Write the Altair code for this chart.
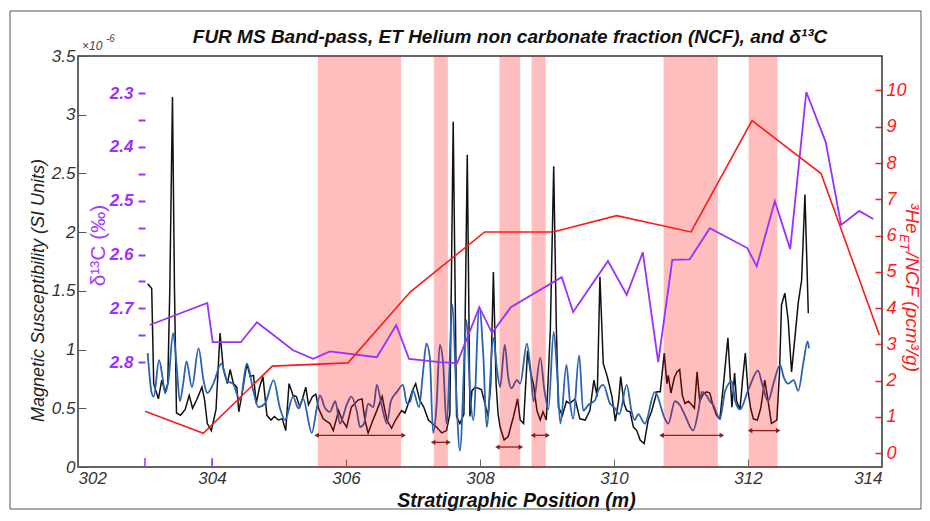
import altair as alt
import pandas as pd

# ---------------- data ----------------
ms_raw_x = [303.04, 303.10, 303.13, 303.20, 303.25, 303.30, 303.34, 303.37, 303.41, 303.44,
            303.47, 303.53, 303.60, 303.66, 303.71, 303.77, 303.85, 303.89, 303.93, 303.99,
            304.06, 304.12, 304.17, 304.23, 304.27, 304.32, 304.37, 304.40, 304.45, 304.52,
            304.57, 304.62, 304.66, 304.71, 304.76, 304.82, 304.88, 304.93, 304.99, 305.05,
            305.10, 305.15, 305.21, 305.26, 305.31, 305.36, 305.40, 305.44, 305.50, 305.55,
            305.59, 305.66, 305.76, 305.81, 305.89, 305.94, 306.01, 306.08, 306.18, 306.24,
            306.28, 306.33, 306.41, 306.46, 306.54, 306.61, 306.68, 306.74, 306.83, 306.88,
            306.93, 306.99, 307.04, 307.10, 307.16, 307.23, 307.29, 307.35, 307.43, 307.50,
            307.55, 307.60, 307.65, 307.70, 307.76, 307.81, 307.85, 307.88, 307.93, 308.02,
            308.07, 308.12, 308.16, 308.20, 308.24, 308.27, 308.30, 308.36, 308.42, 308.50,
            308.56, 308.60, 308.65, 308.71, 308.75, 308.80, 308.85, 308.90, 308.94, 308.99,
            309.05, 309.10, 309.14, 309.17, 309.23, 309.29, 309.34, 309.42, 309.49, 309.57,
            309.64, 309.70, 309.75, 309.79, 309.84, 309.90, 309.97, 310.02, 310.07, 310.10,
            310.15, 310.19, 310.24, 310.29, 310.34, 310.39, 310.45, 310.51, 310.56, 310.64,
            310.69, 310.75, 310.79, 310.81, 310.85, 310.90, 310.94, 310.98, 311.02, 311.06,
            311.11, 311.16, 311.20, 311.24, 311.28, 311.33, 311.38, 311.43, 311.48, 311.53,
            311.58, 311.63, 311.70, 311.76, 311.80, 311.83, 311.88, 311.92, 311.96, 312.00,
            312.04, 312.08, 312.14, 312.19, 312.25, 312.29, 312.35, 312.43, 312.47, 312.50,
            312.55, 312.60, 312.65, 312.70, 312.75, 312.80, 312.85, 312.90]
ms_raw_y = [1.56, 1.52, 0.71, 0.58, 0.74, 0.64, 0.71, 1.51, 3.15, 1.51,
            0.46, 0.44, 0.49, 0.61, 0.50, 0.57, 0.68, 0.57, 0.37, 0.31,
            0.49, 1.14, 0.83, 0.71, 0.83, 0.71, 0.68, 0.47, 0.63, 0.88,
            0.77, 0.78, 0.54, 0.68, 0.77, 0.44, 0.40, 0.43, 0.40, 0.41,
            0.31, 0.71, 0.61, 0.60, 0.51, 0.60, 0.68, 0.53, 0.60, 0.62,
            0.50, 0.41, 0.37, 0.31, 0.48, 0.40, 0.34, 0.51, 0.57, 0.58,
            0.41, 0.29, 0.41, 0.48, 0.60, 0.40, 0.33, 0.40, 0.48, 0.46,
            0.54, 0.65, 0.71, 0.57, 0.51, 0.40, 0.37, 0.34, 0.29, 0.31,
            0.45, 2.94, 0.43, 0.37, 0.45, 2.66, 0.43, 0.65, 0.68, 0.66,
            0.55, 0.43, 0.70, 1.66, 0.71, 0.45, 0.34, 0.23, 0.26, 0.43,
            0.58, 0.40, 0.37, 0.99, 0.82, 0.70, 0.48, 0.40, 0.47, 0.40,
            1.17, 2.56, 1.17, 0.51, 0.44, 0.56, 0.54, 0.58, 0.41, 0.40,
            0.48, 0.74, 0.60, 1.62, 0.88, 0.77, 0.60, 0.39, 0.57, 0.77,
            0.54, 0.48, 0.47, 0.34, 0.31, 0.23, 0.20, 0.40, 0.47, 0.64,
            0.64, 0.97, 0.71, 0.78, 0.63, 0.76, 0.81, 0.83, 0.61, 0.54,
            0.56, 0.53, 0.50, 0.81, 0.56, 0.62, 0.64, 0.63, 0.52, 0.44,
            0.41, 0.68, 1.10, 0.51, 0.80, 0.56, 0.49, 0.75, 0.97, 0.65,
            0.50, 0.41, 0.40, 0.50, 0.74, 0.60, 0.37, 0.40, 0.80, 1.38,
            1.48, 1.25, 0.81, 1.10, 1.40, 1.59, 2.32, 1.31]

ms_bp_x = [303.04, 303.10, 303.13, 303.21, 303.26, 303.30, 303.35, 303.42, 303.47, 303.52,
           303.57, 303.62, 303.70, 303.80, 303.87, 303.93, 304.02, 304.14, 304.23, 304.31,
           304.42, 304.52, 304.62, 304.69, 304.79, 304.92, 305.01, 305.09, 305.21, 305.29,
           305.36, 305.49, 305.56, 305.61, 305.69, 305.76, 305.84, 305.91, 306.01, 306.08,
           306.16, 306.21, 306.27, 306.33, 306.41, 306.46, 306.53, 306.61, 306.67, 306.76,
           306.85, 306.91, 306.96, 307.00, 307.09, 307.15, 307.20, 307.25, 307.30, 307.35,
           307.40, 307.45, 307.50, 307.59, 307.64, 307.70, 307.80, 307.85, 307.90, 307.99,
           308.05, 308.10, 308.20, 308.25, 308.30, 308.37, 308.42, 308.47, 308.55, 308.60,
           308.70, 308.75, 308.80, 308.90, 308.96, 309.02, 309.10, 309.15, 309.20, 309.29,
           309.34, 309.39, 309.48, 309.54, 309.62, 309.72, 309.75, 309.84, 309.94, 310.00,
           310.08, 310.19, 310.26, 310.31, 310.36, 310.46, 310.61, 310.76, 310.81, 310.91,
           310.98, 311.06, 311.18, 311.26, 311.31, 311.38, 311.43, 311.48, 311.58, 311.66,
           311.76, 311.81, 311.88, 312.00, 312.15, 312.21, 312.30, 312.38, 312.48, 312.53,
           312.60, 312.68, 312.75, 312.83, 312.89, 312.91]
ms_bp_y = [0.97, 0.63, 0.60, 0.91, 0.77, 0.63, 0.74, 1.14, 0.88, 0.56,
           0.71, 0.90, 0.68, 1.01, 0.75, 0.63, 0.71, 0.88, 0.73, 0.71,
           0.57, 0.88, 0.64, 0.51, 0.54, 0.74, 0.51, 0.40, 0.60, 0.50,
           0.58, 0.29, 0.49, 0.61, 0.50, 0.47, 0.56, 0.37, 0.53, 0.60,
           0.48, 0.34, 0.37, 0.54, 0.51, 0.70, 0.53, 0.37, 0.56, 0.64,
           0.70, 0.54, 0.56, 0.65, 0.51, 0.81, 1.05, 0.94, 0.29, 0.51,
           1.04, 0.88, 0.37, 1.38, 0.71, 0.14, 1.25, 0.65, 0.40, 1.36,
           0.94, 0.34, 1.10, 0.85, 0.68, 1.04, 0.77, 0.67, 0.74, 0.71,
           1.05, 0.85, 0.56, 0.93, 0.66, 0.49, 1.15, 0.81, 0.37, 0.87,
           0.57, 0.41, 0.95, 0.48, 0.53, 0.57, 0.63, 0.70, 0.54, 0.51,
           0.45, 0.70, 0.48, 0.40, 0.45, 0.37, 0.64, 0.41, 0.37, 0.56,
           0.53, 0.44, 0.31, 0.48, 0.64, 0.61, 0.56, 0.53, 0.41, 0.65,
           0.73, 0.56, 0.49, 0.65, 0.82, 0.71, 0.56, 0.71, 0.87, 0.77,
           0.71, 0.74, 0.65, 0.90, 1.07, 1.01]

d13c_x = [303.07, 303.93, 304.01, 304.43, 304.67, 305.21, 305.51, 305.76, 306.46, 306.75,
          306.94, 307.40, 307.66, 307.99, 308.18, 308.46, 309.22, 309.39, 309.91, 310.19,
          310.43, 310.66, 310.87, 311.13, 311.43, 311.99, 312.13, 312.40, 312.63, 312.87,
          313.16, 313.39, 313.66, 313.87]
d13c_y = [2.731, 2.690, 2.763, 2.763, 2.726, 2.778, 2.794, 2.780, 2.791, 2.731,
          2.794, 2.800, 2.802, 2.698, 2.746, 2.698, 2.642, 2.707, 2.612, 2.675,
          2.596, 2.800, 2.610, 2.609, 2.551, 2.588, 2.622, 2.501, 2.590, 2.298,
          2.391, 2.545, 2.519, 2.534]

he_x = [303.00, 303.87, 304.90, 306.03, 306.96, 308.07, 309.09, 310.04, 311.15, 312.06,
        313.09, 313.96]
he_y = [1.16, 0.55, 2.40, 2.49, 4.45, 6.10, 6.10, 6.55, 6.10, 9.17, 7.71, 3.26]

band_start = [305.58, 307.31, 308.29, 308.77, 310.74, 312.01]
band_end = [306.82, 307.52, 308.60, 308.98, 311.55, 312.44]

arrow_start = [305.56, 307.30, 308.26, 308.79, 310.71, 312.03]
arrow_end = [306.86, 307.53, 308.61, 309.01, 311.61, 312.45]
arrow_level = [0.27, 0.21, 0.17, 0.27, 0.27, 0.31]

x_ticks = [302, 304, 306, 308, 310, 312, 314]
ms_ticks = [0, 0.5, 1, 1.5, 2, 2.5, 3, 3.5]
d13c_ticks = [2.3, 2.35, 2.4, 2.45, 2.5, 2.55, 2.6, 2.65, 2.7, 2.75, 2.8]
he_ticks = [0, 1, 2, 3, 4, 5, 6, 7, 8, 9, 10]
purple_x_ticks = [303, 304]

# ---------------- layout / style ----------------
W, H = 804, 411
LFONT = "Liberation Sans, Arial, sans-serif"
PURPLE = "#9B30FF"
RED = "#FF1A1A"
BLUE = "#2A62B4"
DARKRED = "#8B1E1E"

x_scale = alt.Scale(domain=[302, 314], nice=False, zero=False)
ms_scale = alt.Scale(domain=[0, 3.5], nice=False, zero=False)
d13_scale = alt.Scale(domain=[2.231, 2.995], reverse=True, nice=False, zero=False)
he_scale = alt.Scale(domain=[-0.38, 10.95], nice=False, zero=False)

x_axis = alt.Axis(values=x_ticks, offset=-8, tickSize=8, domain=False, grid=False,
                  labelFont=LFONT, labelFontStyle="italic", labelFontSize=17, labelColor="#333",
                  tickColor="#666", labelPadding=3, format="d",
                  title="Stratigraphic Position (m)", titleFont=LFONT, titleFontSize=19.5,
                  titleFontStyle="italic", titleFontWeight="bold", titleColor="#111",
                  titleX=438, titleY=47, titleAlign="center", titleBaseline="alphabetic")

ms_axis = alt.Axis(orient="left", values=ms_ticks, offset=-8, tickSize=8, domain=False, grid=False,
                   labelFont=LFONT, labelFontStyle="italic", labelFontSize=17, labelColor="#333",
                   tickColor="#555", labelPadding=3, format="~g",
                   title="Magnetic Susceptibility  (SI Units)", titleFont=LFONT, titleFontSize=18,
                   titleFontStyle="italic", titleFontWeight="normal", titleColor="#222",
                   titleX=-43, titleY=234, titleAngle=-90, titleAlign="center",
                   titleBaseline="alphabetic")

d13_axis = alt.Axis(orient="left", values=d13c_ticks, offset=-67, tickSize=7, domain=False, grid=False,
                    labelFont=LFONT, labelFontStyle="italic", labelFontWeight="bold",
                    labelFontSize=17, labelColor=PURPLE, tickColor=PURPLE, tickWidth=2,
                    labelPadding=5,
                    labelExpr="abs(datum.value*10 - round(datum.value*10)) < 0.01 ? format(datum.value, '.1f') : ''",
                    title="δ¹³C (‰)", titleFont=LFONT, titleFontSize=21, titleFontWeight="normal",
                    titleColor="#A040FF", titleX=-41, titleY=189, titleAngle=-90,
                    titleAlign="center", titleBaseline="alphabetic")

he_axis = alt.Axis(orient="right", values=he_ticks, offset=-7, tickSize=7, domain=False, grid=False,
                   labelFont=LFONT, labelFontStyle="italic", labelFontSize=18, labelColor=RED,
                   tickColor=RED, tickWidth=1.5, labelPadding=4, format="d", title=None)

raw_df = pd.DataFrame({"pos": ms_raw_x, "ms": ms_raw_y})
bp_df = pd.DataFrame({"pos": ms_bp_x, "ms": ms_bp_y})
d13_df = pd.DataFrame({"pos": d13c_x, "d13c": d13c_y})
he_df = pd.DataFrame({"pos": he_x, "he": he_y})
band_df = pd.DataFrame({"start": band_start, "end": band_end})
arrow_df = pd.DataFrame({"start": arrow_start, "end": arrow_end, "level": arrow_level})
ptick_df = pd.DataFrame({"pos": purple_x_ticks})
one = pd.DataFrame({"k": [0]})

X = alt.X("pos:Q", scale=x_scale, axis=x_axis)

black = alt.Chart(raw_df).mark_line(color="#111", strokeWidth=1.5).encode(
    x=X, y=alt.Y("ms:Q", scale=ms_scale, axis=ms_axis))

blue = alt.Chart(bp_df).mark_line(color=BLUE, strokeWidth=1.8, interpolate="monotone").encode(
    x=X, y=alt.Y("ms:Q", scale=ms_scale, axis=None))

bands = alt.Chart(band_df).mark_rect(color="#FF0000", opacity=0.26).encode(
    x=alt.X("start:Q", scale=x_scale, axis=x_axis), x2="end:Q",
    y=alt.value(0), y2=alt.value(H))

purple = alt.Chart(d13_df).mark_line(color=PURPLE, strokeWidth=1.8).encode(
    x=X, y=alt.Y("d13c:Q", scale=d13_scale, axis=d13_axis))

red = alt.Chart(he_df).mark_line(color=RED, strokeWidth=1.6).encode(
    x=X, y=alt.Y("he:Q", scale=he_scale, axis=he_axis))

arrow_line = alt.Chart(arrow_df).mark_rule(color=DARKRED, strokeWidth=1.3).encode(
    x=alt.X("start:Q", scale=x_scale, axis=x_axis), x2="end:Q",
    y=alt.Y("level:Q", scale=ms_scale, axis=None))

arrow_l = alt.Chart(arrow_df).mark_point(shape="triangle-left", filled=True, size=28,
                                         color=DARKRED, opacity=1).encode(
    x=alt.X("start:Q", scale=x_scale, axis=x_axis),
    y=alt.Y("level:Q", scale=ms_scale, axis=None))

arrow_r = alt.Chart(arrow_df).mark_point(shape="triangle-right", filled=True, size=28,
                                         color=DARKRED, opacity=1).encode(
    x=alt.X("end:Q", scale=x_scale, axis=x_axis),
    y=alt.Y("level:Q", scale=ms_scale, axis=None))

ptick = alt.Chart(ptick_df).mark_rule(color=PURPLE, strokeWidth=1.5).encode(
    x=X, y=alt.value(H - 9), y2=alt.value(H))

# decorations (text/frame)
border = alt.Chart(one).mark_rect(fill="transparent", stroke="#555", strokeWidth=1).encode(
    x=alt.value(-68), x2=alt.value(843), y=alt.value(-45), y2=alt.value(453))

title_txt = alt.Chart(one).mark_text(
    text="FUR MS Band-pass, ET Helium non carbonate fraction (NCF), and δ¹³C",
    font=LFONT, fontSize=19, fontStyle="italic", fontWeight="bold", color="#111",
    align="center", baseline="alphabetic").encode(x=alt.value(432), y=alt.value(-13))

exp_txt = alt.Chart(one).mark_text(text="×10", font=LFONT, fontSize=12, fontStyle="italic",
                                   color="#444", align="left", baseline="alphabetic").encode(
    x=alt.value(4), y=alt.value(-6))
exp_txt2 = alt.Chart(one).mark_text(text="-6", font=LFONT, fontSize=10, fontStyle="italic",
                                    color="#444", align="left", baseline="alphabetic").encode(
    x=alt.value(28), y=alt.value(-14))

he_t1 = alt.Chart(one).mark_text(text="³He", font=LFONT, fontSize=19, fontStyle="italic",
                                 color=RED, align="left", baseline="alphabetic", angle=90).encode(
    x=alt.value(828), y=alt.value(147))
he_t2 = alt.Chart(one).mark_text(text="ET", font=LFONT, fontSize=13, fontStyle="italic",
                                 color=RED, align="left", baseline="alphabetic", angle=90).encode(
    x=alt.value(822), y=alt.value(178))
he_t3 = alt.Chart(one).mark_text(text="/NCF (pcm³/g)", font=LFONT, fontSize=19, fontStyle="italic",
                                 color=RED, align="left", baseline="alphabetic", angle=90).encode(
    x=alt.value(828), y=alt.value(196))

chart = alt.layer(
    black, blue, bands, purple, red, arrow_line, arrow_l, arrow_r, ptick,
    border, title_txt, exp_txt, exp_txt2, he_t1, he_t2, he_t3
).resolve_scale(y="independent").properties(
    width=W, height=H,
    autosize=alt.AutoSizeParams(type="none"),
    padding={"left": 70, "top": 48, "right": 40, "bottom": 46},
).configure_view(stroke="#333", strokeWidth=1.5)

chart.save("out.html", embed_options={"renderer": "svg", "actions": False})
